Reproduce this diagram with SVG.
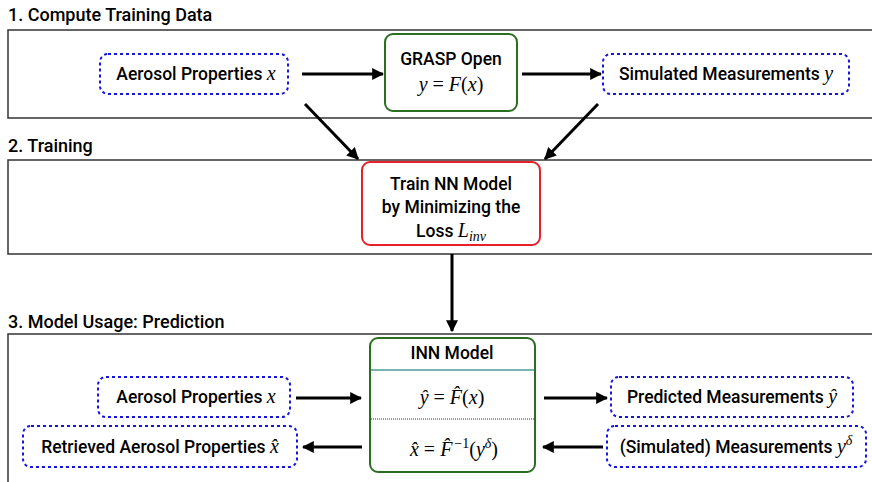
<svg xmlns="http://www.w3.org/2000/svg" width="872" height="482" viewBox="0 0 872 482">
<defs>
<marker id="ah" viewBox="0 0 10 10" refX="9" refY="5" markerWidth="12" markerHeight="12" markerUnits="userSpaceOnUse" orient="auto">
<path d="M0,0 L10,5 L0,10 z" fill="#000"/>
</marker>
<style>
.panel{fill:#fff;stroke:#333;stroke-width:1.5}
.ttl{font-family:Roboto,"Liberation Sans",sans-serif;font-weight:500;font-size:18px;fill:#000}
.lbl{font-family:Roboto,"Liberation Sans",sans-serif;font-weight:500;font-size:17.5px;fill:#000}
.m{font-family:"Liberation Serif",serif;font-style:italic;font-size:20px}
.mu{font-family:"Liberation Serif",serif;font-style:normal;font-size:20px}
.sup{font-size:14px}
.sub{font-size:14px}
.dash{fill:#fff;stroke:#1515e0;stroke-width:2;stroke-dasharray:3 3}
.grn{fill:#fff;stroke:#2a6e1f;stroke-width:2}
.red{fill:#fff;stroke:#e8202a;stroke-width:2}
.conn{stroke:#000;stroke-width:3;fill:none;marker-end:url(#ah)}
</style>
</defs>
<rect width="872" height="482" fill="#fff"/>
<g id="panel1">
<text class="ttl" x="8" y="21">1. Compute Training Data</text>
<rect class="panel" x="8" y="30" width="880" height="88"/>
</g>
<g id="panel2">
<text class="ttl" x="8" y="152">2. Training</text>
<rect class="panel" x="8" y="160" width="880" height="94"/>
</g>
<g id="panel3">
<text class="ttl" x="8" y="328">3. Model Usage: Prediction</text>
<rect class="panel" x="8" y="334" width="880" height="160"/>
</g>
<g id="connectors">
<line class="conn" x1="302" y1="74" x2="383" y2="74"/>
<line class="conn" x1="522" y1="74" x2="601" y2="74"/>
<line class="conn" x1="305" y1="104" x2="358" y2="159"/>
<line class="conn" x1="598" y1="104" x2="545" y2="159"/>
<line class="conn" x1="452" y1="254" x2="452" y2="331"/>
<line class="conn" x1="296" y1="398" x2="361" y2="398"/>
<line class="conn" x1="544" y1="398" x2="607" y2="398"/>
<line class="conn" x1="603" y1="447" x2="543" y2="447"/>
<line class="conn" x1="362" y1="447" x2="303" y2="447"/>
</g>
<g id="aerosol1">
<rect class="dash" x="100" y="54" width="188" height="40" rx="8"/>
<text class="lbl" x="196" y="80" text-anchor="middle">Aerosol Properties <tspan class="m">x</tspan></text>
</g>
<g id="grasp">
<rect class="grn" x="385" y="34" width="132" height="77" rx="8"/>
<text class="lbl" x="451" y="65" text-anchor="middle">GRASP Open</text>
<text class="m" x="451" y="91" text-anchor="middle">y <tspan class="mu">=</tspan> F<tspan class="mu">(</tspan>x<tspan class="mu">)</tspan></text>
</g>
<g id="simmeas1">
<rect class="dash" x="603" y="54" width="246" height="40" rx="8"/>
<text class="lbl" x="726" y="80" text-anchor="middle">Simulated Measurements <tspan class="m">y</tspan></text>
</g>
<g id="train">
<rect class="red" x="362" y="162" width="178" height="83" rx="8"/>
<text class="lbl" x="451" y="190" text-anchor="middle">Train NN Model</text>
<text class="lbl" x="451" y="213" text-anchor="middle">by Minimizing the</text>
<text class="lbl" x="451" y="237" text-anchor="middle">Loss <tspan class="m">L</tspan><tspan class="m sub" dy="4">inv</tspan></text>
</g>
<g id="inn">
<rect class="grn" x="370" y="338" width="165" height="134" rx="8"/>
<line x1="371" y1="370" x2="534" y2="370" stroke="#4a9a9a" stroke-width="1.5"/>
<line x1="371" y1="419" x2="534" y2="419" stroke="#333" stroke-width="1" stroke-dasharray="1 1"/>
<text class="lbl" x="452" y="359" text-anchor="middle">INN Model</text>
<text class="m" x="452" y="404" text-anchor="middle">ŷ <tspan class="mu">=</tspan> F̂<tspan class="mu">(</tspan>x<tspan class="mu">)</tspan></text>
<text class="m" x="454" y="456" text-anchor="middle">x̂ <tspan class="mu">=</tspan> F̂<tspan class="mu sup" dx="2" dy="-8">−1</tspan><tspan class="mu" dy="8">(</tspan>y<tspan class="m sup" dy="-8">δ</tspan><tspan class="mu" dy="8">)</tspan></text>
</g>
<g id="aerosol2">
<rect class="dash" x="98" y="377" width="192" height="40" rx="8"/>
<text class="lbl" x="196" y="403" text-anchor="middle">Aerosol Properties <tspan class="m">x</tspan></text>
</g>
<g id="retrieved">
<rect class="dash" x="23" y="426" width="274" height="41" rx="8"/>
<text class="lbl" x="160" y="453" text-anchor="middle">Retrieved Aerosol Properties <tspan class="m">x̂</tspan></text>
</g>
<g id="predicted">
<rect class="dash" x="611" y="377" width="242" height="40" rx="8"/>
<text class="lbl" x="732" y="403" text-anchor="middle">Predicted Measurements <tspan class="m">ŷ</tspan></text>
</g>
<g id="simmeas2">
<rect class="dash" x="607" y="426" width="259" height="41" rx="8"/>
<text class="lbl" x="736" y="453" text-anchor="middle">(Simulated) Measurements <tspan class="m">y</tspan><tspan class="m sup" dy="-8">δ</tspan></text>
</g>
</svg>
